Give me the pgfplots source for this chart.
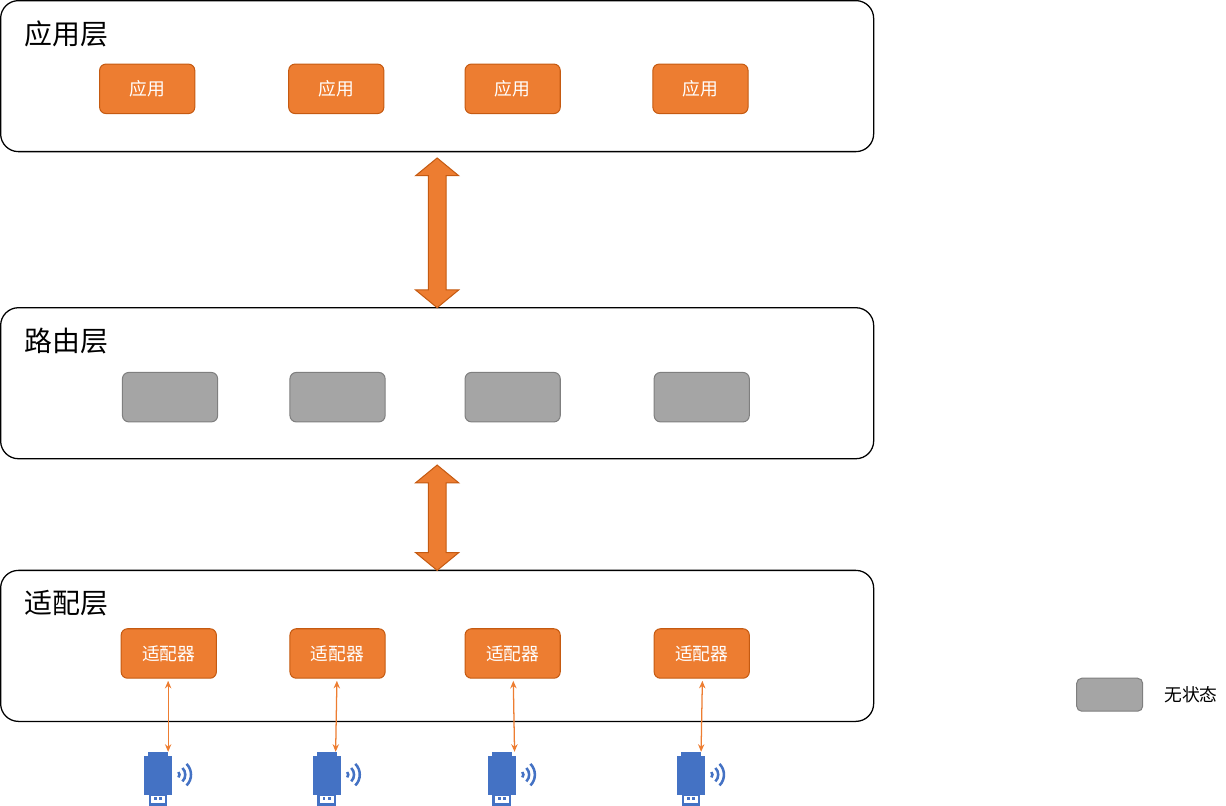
\documentclass[border=0pt]{standalone}
\usepackage{pgfplots}
\pgfplotsset{compat=1.18}
\usepackage{fontspec}
\newfontfamily\cjk{Noto Sans CJK SC}
\usetikzlibrary{arrows.meta}
\definecolor{og}{HTML}{ED7D31}
\definecolor{ogd}{HTML}{C55A11}
\definecolor{gr}{HTML}{A5A5A5}
\definecolor{gd}{HTML}{7F7F7F}
\definecolor{bl}{HTML}{4472C4}
\newcommand\layer[3]{%
  \draw[rounded corners=7pt, line width=0.5pt] (axis cs:209,#1) rectangle (axis cs:897,#2);
  \node[anchor=west, font=\cjk\fontsize{11}{12}\selectfont] at (axis cs:221,#1+26) {#3};}
\newcommand\obox[3]{%
  \draw[rounded corners=2.5pt, fill=og, draw=ogd, line width=0.4pt] (axis cs:#1,#2) rectangle (axis cs:#1+75,#2+39);
  \node[text=white, font=\cjk\fontsize{7}{8}\selectfont] at (axis cs:#1+37.5,#2+19.5) {#3};}
\newcommand\gbox[1]{%
  \draw[rounded corners=2.5pt, fill=gr, draw=gd, line width=0.4pt] (axis cs:#1,323) rectangle (axis cs:#1+75,362);}
\newcommand\bigarrow[2]{%
  \draw[fill=og, draw=ogd, line width=0.4pt] (axis cs:553,#1) -- (axis cs:570,#1+14) -- (axis cs:560,#1+14) -- (axis cs:560,#2-14) -- (axis cs:570,#2-14) -- (axis cs:553,#2) -- (axis cs:536,#2-14) -- (axis cs:546,#2-14) -- (axis cs:546,#1+14) -- (axis cs:536,#1+14) -- cycle;}
\newcommand\sarrow[2]{%
  \draw[og, line width=0.5pt, {Stealth[length=3pt,width=2.5pt]}-{Stealth[length=3pt,width=2.5pt]}] (axis cs:#1,566) -- (axis cs:#2,622);}
\newcommand\usb[1]{%
  \fill[bl] (axis cs:#1,625) rectangle (axis cs:#1+22,656);
  \fill[bl] (axis cs:#1+3,622) rectangle (axis cs:#1+19,625);
  \draw[bl, line width=0.9pt] (axis cs:#1+4.5,656) rectangle (axis cs:#1+17.5,663.5);
  \fill[bl] (axis cs:#1+8,657.5) rectangle (axis cs:#1+10,660);
  \fill[bl] (axis cs:#1+12,657.5) rectangle (axis cs:#1+14,660);
  \draw[bl, line width=1pt] (axis cs:#1+27.1,637.9) arc[start angle=45, end angle=-45, radius=1.5pt];
  \draw[bl, line width=1pt] (axis cs:#1+30.3,634.7) arc[start angle=45, end angle=-45, radius=3.75pt];
  \draw[bl, line width=1pt] (axis cs:#1+33.5,631.5) arc[start angle=45, end angle=-45, radius=6pt];}
\begin{document}
\begin{tikzpicture}
\begin{axis}[scale only axis, width=613pt, height=336.5pt, xmin=0, xmax=1226, ymin=0, ymax=673, y dir=reverse, axis lines=none, clip=false]
\layer{30}{149}{应用层}
\layer{272}{391}{路由层}
\layer{479}{598}{适配层}
\obox{287}{80}{应用}\obox{436}{80}{应用}\obox{575}{80}{应用}\obox{723}{80}{应用}
\gbox{305}\gbox{437}\gbox{575}\gbox{724}
\obox{304}{525}{适配器}\obox{437}{525}{适配器}\obox{575}{525}{适配器}\obox{724}{525}{适配器}
\bigarrow{154}{272}
\bigarrow{396}{479}
\sarrow{341}{341}\sarrow{474}{473}\sarrow{613}{614}\sarrow{762}{761}
\usb{322}\usb{455}\usb{593}\usb{742}
\draw[rounded corners=2pt, fill=gr, draw=gd, line width=0.4pt] (axis cs:1057,564) rectangle (axis cs:1109,590);
\node[font=\cjk\fontsize{7}{8}\selectfont] at (axis cs:1147,577) {无状态};
\end{axis}
\end{tikzpicture}
\end{document}
